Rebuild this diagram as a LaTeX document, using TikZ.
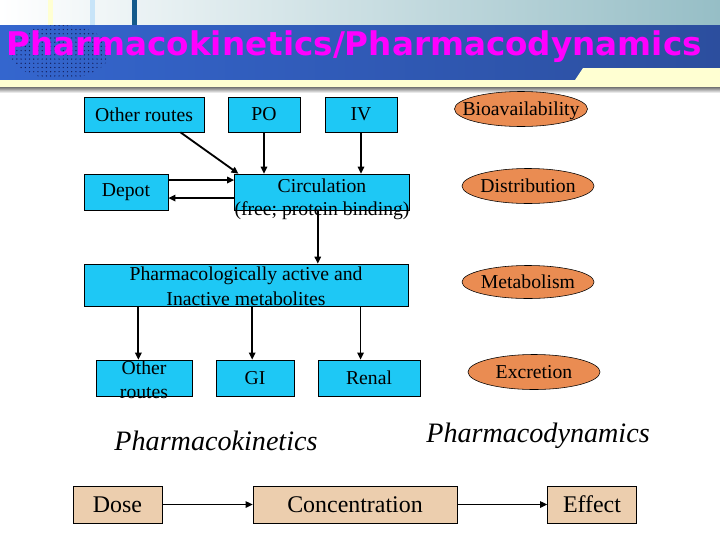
\documentclass[tikz,border=0pt]{standalone}
\usepackage{fontspec}
\setmainfont{Liberation Serif}
\newfontfamily\titlefont{DejaVu Sans}
\usepackage{tikz}
\usetikzlibrary{arrows.meta,positioning,calc,shapes.geometric,patterns}
\definecolor{boxcyan}{RGB}{30,200,245}
\definecolor{boxtan}{RGB}{236,206,174}
\definecolor{ovalorange}{RGB}{234,140,82}
\definecolor{bannerleft}{RGB}{52,102,206}
\definecolor{bannerright}{RGB}{44,78,158}
\definecolor{hdrteal}{RGB}{150,190,198}
\definecolor{paleyellow}{RGB}{255,255,210}
\definecolor{barblue}{RGB}{200,228,248}
\definecolor{bardark}{RGB}{20,90,140}
\definecolor{dotnavy}{RGB}{20,30,90}
\definecolor{titlepink}{RGB}{255,0,255}
\newcommand{\pxl}{0.025cm}

\begin{document}
\begin{tikzpicture}[x=\pxl,y=-\pxl,>=Stealth,
  cbox/.style={draw,fill=boxcyan,inner sep=0pt,font=\fontsize{14}{17}\selectfont},
  oval/.style={ellipse,draw,fill=ovalorange,inner sep=0pt,minimum width=132*\pxl,
    minimum height=35*\pxl,text height=9.5pt,text depth=0pt,font=\fontsize{14}{17}\selectfont},
  tbox/.style={draw,fill=boxtan,inner sep=0pt,minimum height=37*\pxl,
    font=\fontsize{17}{20}\selectfont},
  arr/.style={-{Triangle[length=5pt,width=4.5pt]},line width=1.3pt}]
  \useasboundingbox (0,0) rectangle (720,540);
  \fill[white] (0,0) rectangle (720,540);
  % header
  \shade[left color=white,right color=hdrteal] (0,0) rectangle (720,25);
  \fill[paleyellow] (48,0) rectangle (53,25);
  \fill[barblue] (90,0) rectangle (95,25);
  \fill[bardark] (132,0) rectangle (137,25);
  \shade[left color=bannerleft,right color=bannerright] (0,25) rectangle (720,80);
  \fill[pattern=dots,pattern color=dotnavy] (60,52) ellipse (50 and 27);
  \fill[paleyellow] (0,80) -- (575,80) -- (583,68) -- (720,68) -- (720,87) -- (0,87) -- cycle;
  \shade[top color=black!55,bottom color=white] (0,87) rectangle (720,93);
  \node[font=\titlefont\bfseries\fontsize{23.2}{27}\selectfont,text=titlepink] (title) at (354,47)
    {Pharmacokinetics/Pharmacodynamics};

  % pharmacokinetics boxes
  \node[cbox,minimum width=120*\pxl,minimum height=35*\pxl] (oth) at (144,114.5) {Other routes};
  \node[cbox,minimum width=72*\pxl,minimum height=35*\pxl] (po) at (264,114.5) {PO};
  \node[cbox,minimum width=72*\pxl,minimum height=35*\pxl] (iv) at (361,114.5) {IV};
  \node[cbox,minimum width=84*\pxl,minimum height=36*\pxl] (dep) at (126,192) {Depot};
  \node[cbox,minimum width=162*\pxl,minimum height=36*\pxl] (circ) at (322,192)
    {\smash{\raisebox{-9pt}{\begin{tabular}{@{}c@{}}Circulation\\[-0.7pt](free; protein binding)\end{tabular}}}};
  \node[cbox,minimum width=324*\pxl,minimum height=42*\pxl] (act) at (246,285)
    {\smash{\raisebox{-6pt}{\begin{tabular}{@{}c@{}}Pharmacologically active and\\[0.7pt]Inactive metabolites\end{tabular}}}};
  \node[cbox,minimum width=96*\pxl,minimum height=36*\pxl] (orb) at (144,378)
    {\smash{\raisebox{-6.2pt}{\begin{tabular}{@{}c@{}}Other\\routes\end{tabular}}}};
  \node[cbox,minimum width=78*\pxl,minimum height=36*\pxl] (gi) at (255,378) {GI};
  \node[cbox,minimum width=102*\pxl,minimum height=36*\pxl] (ren) at (369,378) {Renal};

  \draw[arr] ([xshift=-17pt]oth.south east) -- ([xshift=3pt]circ.north west);
  \draw[arr] (po.south) -- (po.south |- circ.north);
  \draw[arr] (iv.south) -- (iv.south |- circ.north);
  \draw[arr] ([yshift=8.5pt]dep.east) -- ([yshift=8.5pt]dep.east -| circ.west);
  \draw[arr] ([yshift=-4.3pt]circ.west) -- ([yshift=-4.3pt]circ.west -| dep.east);
  \draw[arr] ([xshift=-3pt]circ.south) -- ([xshift=-3pt]circ.south |- act.north);
  \draw[arr] ([xshift=-4pt]orb.north |- act.south) -- ([xshift=-4pt]orb.north);
  \draw[arr] ([xshift=-2pt]gi.north |- act.south) -- ([xshift=-2pt]gi.north);
  \draw[arr] ([xshift=-6pt]ren.north |- act.south) -- ([xshift=-6pt]ren.north);

  % processes
  \node[oval,minimum width=133*\pxl] (bio) at (521,109) {\makebox[0pt]{Bioavailability}};
  \node[oval] (dis) at (528,186) {\makebox[0pt]{Distribution}};
  \node[oval,minimum height=33*\pxl] (met) at (528,282) {\makebox[0pt]{Metabolism}};
  \node[oval] (exc) at (534,372) {\makebox[0pt]{Excretion}};

  % dose - concentration - effect
  \node[font=\itshape\fontsize{20}{24}\selectfont] (pk) at (216,441) {Pharmacokinetics};
  \node[font=\itshape\fontsize{20}{24}\selectfont] (pd) at (538,436) {Pharmacodynamics};
  \node[tbox,minimum width=89*\pxl] (dose) at (117.5,504.5) {Dose};
  \node[tbox,minimum width=204*\pxl] (conc) at (355,504.5) {Concentration};
  \node[tbox,minimum width=89*\pxl] (eff) at (592,504.5) {Effect};
  \draw[arr,line width=1.1pt] (dose) -- (conc);
  \draw[arr,line width=1.1pt] (conc) -- (eff);
\end{tikzpicture}
\end{document}
